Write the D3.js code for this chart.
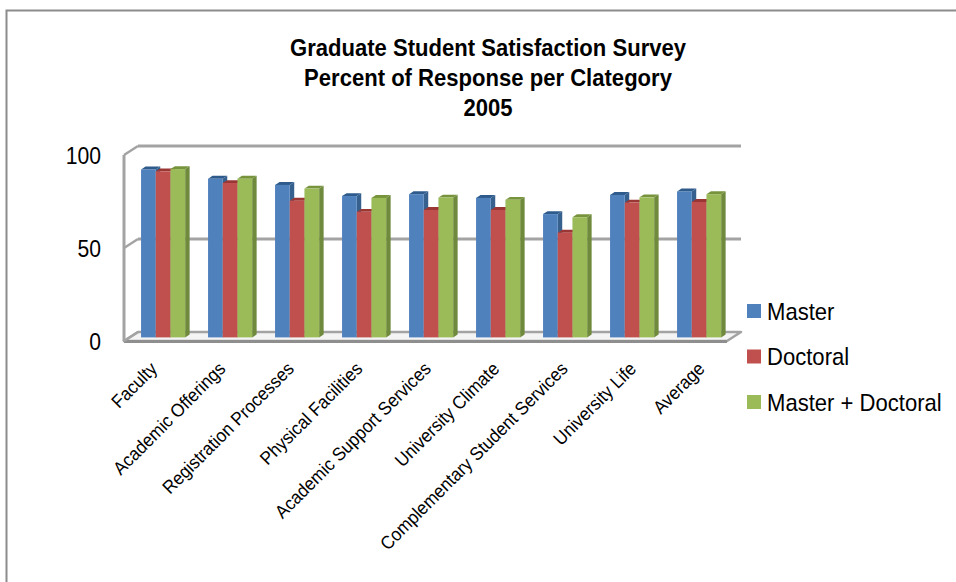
<!DOCTYPE html>
<html>
<head>
<meta charset="utf-8">
<script src="https://cdn.jsdelivr.net/npm/d3@7"></script>
<style>
  html, body { margin: 0; padding: 0; background: #fff; }
  svg { display: block; }
  text { font-family: 'Liberation Sans', Arial, sans-serif; fill: #000; }
</style>
</head>
<body>
<svg id="chart" width="956" height="582"></svg>
<script>
// Survey categories and satisfaction percentages per group
const categories = [
  "Faculty", "Academic Offerings", "Registration Processes", "Physical Facilities",
  "Academic Support Services", "University Climate", "Complementary Student Services",
  "University Life", "Average"
];
const master   = [90.3, 85.3, 82, 76, 77, 75, 66.3, 76.6, 78.5];
const doctoral = [89.3, 83, 73.5, 67.5, 68.5, 68.5, 56.3, 72.5, 72.8];
const combined = [90.5, 85.3, 80, 75, 75.2, 74, 64.6, 75.3, 77];
const seriesNames = ["Master", "Doctoral", "Master + Doctoral"];
const yTicks = [0, 50, 100];
const titleLines = [
  "Graduate Student Satisfaction Survey",
  "Percent of Response per Clategory",
  "2005"
];

const series = [master, doctoral, combined];
const palette = [
  { front: "#4f81bd", side: "#36618f", top: "#2f5b8c" },
  { front: "#c0504d", side: "#8e3532", top: "#9a3734" },
  { front: "#9bbb59", side: "#6f8a3c", top: "#77943c" }
];

// condensed text: regular glyphs squeezed horizontally
const narrow = 0.9;

const svg = d3.select("#chart");

// outer chart frame
svg.append("rect")
  .attr("x", 6.5).attr("y", 10.5)
  .attr("width", 1000).attr("height", 600)
  .attr("fill", "none").attr("stroke", "#8c8c8c").attr("stroke-width", 2);

// oblique 3D projection: front floor plane + depth vector
const floorLeft = 124, floorRight = 727, floorY = 341;
const depth = { dx: 14, dy: -9 };
const x = d3.scaleBand().domain(categories).range([floorLeft, floorRight]);
const y = d3.scaleLinear().domain([0, 100]).range([0, 186]);

const gridColor = "#a3a3a3";
const walls = svg.append("g");

// floor slab
walls.append("path")
  .attr("d", `M${floorLeft},${floorY} L${floorRight},${floorY} L${floorRight + depth.dx},${floorY + depth.dy} L${floorLeft + depth.dx},${floorY + depth.dy} Z`)
  .attr("fill", "#f4f4f4").attr("stroke", gridColor).attr("stroke-width", 2.5)
  .attr("stroke-linejoin", "round");
// darker front edge of the floor
walls.append("line")
  .attr("x1", floorLeft).attr("x2", floorRight)
  .attr("y1", floorY + 0.5).attr("y2", floorY + 0.5)
  .attr("stroke", "#8e8e8e").attr("stroke-width", 3);

// back-wall gridlines and left-wall ticks
yTicks.forEach(t => {
  const yb = floorY + depth.dy - y(t);
  const yf = floorY - y(t);
  if (t > 0) {
    walls.append("line")
      .attr("x1", floorLeft + depth.dx).attr("x2", floorRight + depth.dx)
      .attr("y1", yb).attr("y2", yb)
      .attr("stroke", gridColor).attr("stroke-width", 3);
  }
  walls.append("line")
    .attr("x1", floorLeft).attr("y1", yf)
    .attr("x2", floorLeft + depth.dx).attr("y2", yb)
    .attr("stroke", gridColor).attr("stroke-width", 2.5);
});
// left wall front edge
walls.append("line")
  .attr("x1", floorLeft).attr("x2", floorLeft)
  .attr("y1", floorY - y(100)).attr("y2", floorY)
  .attr("stroke", gridColor).attr("stroke-width", 3);

// y-axis labels
svg.append("g").selectAll("text").data(yTicks).join("text")
  .attr("transform", d => `translate(101,${floorY - y(d) + 9}) scale(0.88,1)`)
  .attr("text-anchor", "end")
  .attr("font-size", 24)
  .text(d => d);

// 3D columns
const barDepthStart = 0.4, barDepth = 0.32;
const barW = 14.7;
const inner = (x.bandwidth() - barW * series.length) / 2;
const bars = svg.append("g");
categories.forEach((c, i) => {
  series.forEach((vals, j) => {
    const v = vals[i];
    const col = palette[j];
    const x0 = x(c) + inner + j * barW + barDepthStart * depth.dx;
    const yb = floorY + barDepthStart * depth.dy;
    const yt = yb - y(v);
    const ddx = barDepth * depth.dx, ddy = barDepth * depth.dy;
    const g = bars.append("g");
    // right side face
    g.append("path")
      .attr("d", `M${x0 + barW},${yb} L${x0 + barW},${yt} L${x0 + barW + ddx},${yt + ddy} L${x0 + barW + ddx},${yb + ddy} Z`)
      .attr("fill", col.side);
    // top face
    g.append("path")
      .attr("d", `M${x0},${yt} L${x0 + barW},${yt} L${x0 + barW + ddx},${yt + ddy} L${x0 + ddx},${yt + ddy} Z`)
      .attr("fill", col.top);
    // front face
    g.append("rect")
      .attr("x", x0).attr("y", yt)
      .attr("width", barW).attr("height", y(v))
      .attr("fill", col.front);
  });
});

// category labels, rotated
const xLabel = d3.scaleBand().domain(categories).range([floorLeft - 3, floorRight + 10]);
svg.append("g").selectAll("text").data(categories).join("text")
  .attr("transform", d => `translate(${xLabel(d) + xLabel.bandwidth() / 2 + 3},${floorY + 29}) rotate(-45) scale(0.93,1)`)
  .attr("text-anchor", "end")
  .attr("font-size", 18.5)
  .text(d => d);

// title
svg.append("g").selectAll("text").data(titleLines).join("text")
  .attr("transform", (d, i) => `translate(488,${56 + i * 30}) scale(0.92,1)`)
  .attr("text-anchor", "middle")
  .attr("font-size", 24)
  .attr("font-weight", "bold")
  .text(d => d);

// legend
const legend = svg.append("g");
seriesNames.forEach((name, j) => {
  const cy = 311 + j * 45.5;
  legend.append("rect")
    .attr("x", 747).attr("y", cy - 7)
    .attr("width", 14).attr("height", 14)
    .attr("fill", palette[j].front);
  legend.append("text")
    .attr("transform", `translate(767,${cy + 8.5}) scale(${narrow + 0.02},1)`)
    .attr("font-size", 24)
    .text(name);
});
</script>
</body>
</html>
